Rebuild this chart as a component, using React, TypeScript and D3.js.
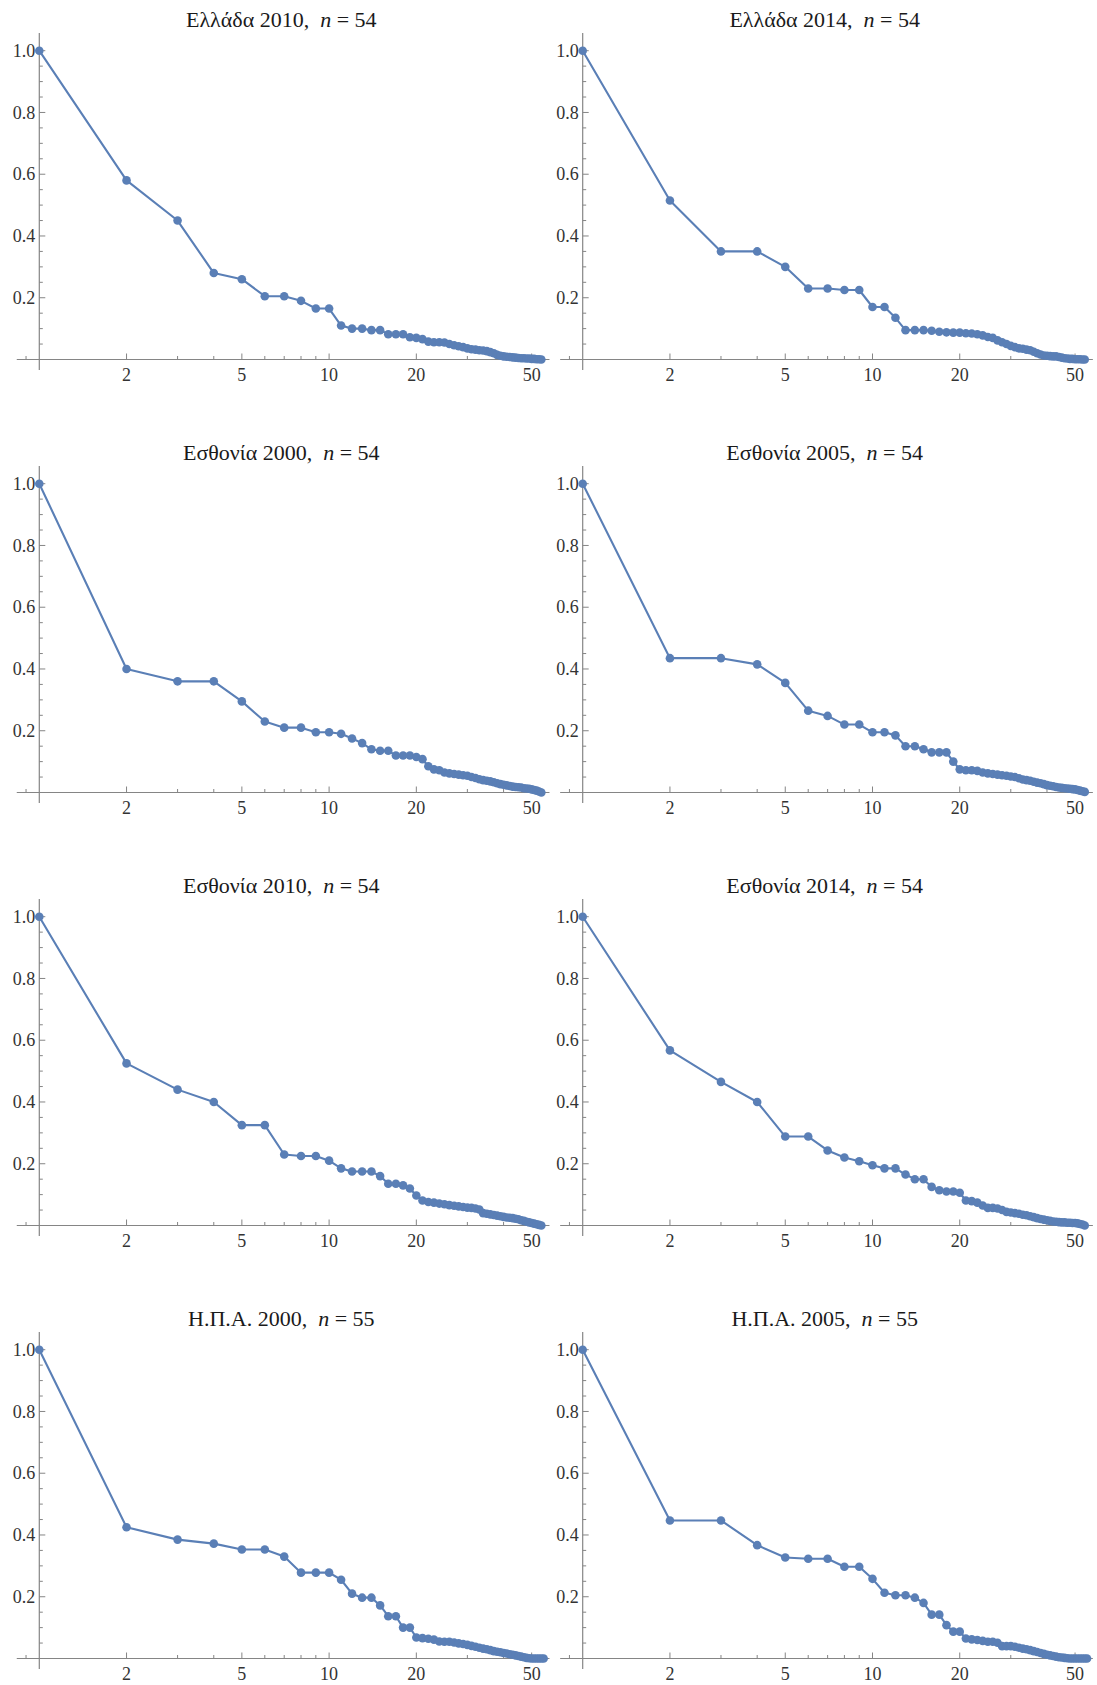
import React from "react";
import * as d3 from "d3";

// ---------- data ----------
const titles = ["Ελλάδα 2010", "Ελλάδα 2014", "Εσθονία 2000", "Εσθονία 2005", "Εσθονία 2010", "Εσθονία 2014", "Η.Π.Α. 2000", "Η.Π.Α. 2005"];

const greece2010 = [
  1.0, 0.58, 0.45, 0.28, 0.26, 0.205, 0.205, 0.19, 0.165, 0.165,
  0.11, 0.10, 0.10, 0.095, 0.095, 0.082, 0.082, 0.082, 0.072, 0.07,
  0.066, 0.058, 0.056, 0.056, 0.055, 0.05, 0.046, 0.043, 0.04, 0.036,
  0.033, 0.032, 0.03, 0.029, 0.027, 0.024, 0.02, 0.015, 0.012, 0.01,
  0.009, 0.008, 0.007, 0.006, 0.005, 0.004, 0.004, 0.003, 0.003, 0.002,
  0.002, 0.001, 0.001, 0.0,
];
const greece2014 = [
  1.0, 0.515, 0.35, 0.35, 0.30, 0.23, 0.23, 0.225, 0.225, 0.17,
  0.17, 0.135, 0.095, 0.095, 0.095, 0.093, 0.09, 0.088, 0.087, 0.087,
  0.085, 0.084, 0.082, 0.078, 0.073, 0.07, 0.062, 0.056, 0.05, 0.044,
  0.04, 0.036, 0.035, 0.032, 0.03, 0.025, 0.02, 0.016, 0.013, 0.012,
  0.011, 0.01, 0.01, 0.008, 0.006, 0.004, 0.003, 0.002, 0.002, 0.001,
  0.001, 0.001, 0.0, 0.0,
];
const estonia2000 = [
  1.0, 0.40, 0.36, 0.36, 0.295, 0.23, 0.21, 0.21, 0.195, 0.195,
  0.19, 0.175, 0.16, 0.14, 0.135, 0.135, 0.12, 0.12, 0.12, 0.115,
  0.108, 0.085, 0.075, 0.072, 0.065, 0.062, 0.06, 0.058, 0.056, 0.054,
  0.05, 0.047, 0.043, 0.04, 0.038, 0.036, 0.033, 0.03, 0.027, 0.025,
  0.023, 0.021, 0.019, 0.018, 0.017, 0.016, 0.014, 0.013, 0.012, 0.01,
  0.008, 0.006, 0.003, 0.0,
];
const estonia2005 = [
  1.0, 0.435, 0.435, 0.415, 0.355, 0.265, 0.248, 0.22, 0.22, 0.195,
  0.195, 0.185, 0.15, 0.15, 0.14, 0.13, 0.13, 0.13, 0.1, 0.075,
  0.072, 0.072, 0.07, 0.065, 0.062, 0.06, 0.058, 0.056, 0.054, 0.052,
  0.05, 0.046, 0.042, 0.04, 0.038, 0.035, 0.032, 0.03, 0.027, 0.024,
  0.022, 0.02, 0.018, 0.016, 0.015, 0.014, 0.013, 0.012, 0.011, 0.01,
  0.008, 0.006, 0.004, 0.002,
];
const estonia2010 = [
  1.0, 0.525, 0.44, 0.40, 0.325, 0.325, 0.23, 0.225, 0.225, 0.21,
  0.185, 0.175, 0.175, 0.175, 0.16, 0.135, 0.135, 0.13, 0.12, 0.097,
  0.081, 0.076, 0.074, 0.071, 0.069, 0.066, 0.064, 0.062, 0.06, 0.058,
  0.057, 0.055, 0.052, 0.04, 0.038, 0.036, 0.034, 0.032, 0.03, 0.028,
  0.026, 0.025, 0.024, 0.022, 0.02, 0.017, 0.015, 0.012, 0.01, 0.008,
  0.006, 0.004, 0.002, 0.0,
];
const estonia2014 = [
  1.0, 0.567, 0.465, 0.40, 0.288, 0.288, 0.243, 0.22, 0.208, 0.195,
  0.185, 0.185, 0.165, 0.15, 0.15, 0.125, 0.114, 0.11, 0.11, 0.106,
  0.081, 0.079, 0.074, 0.065, 0.057, 0.057, 0.055, 0.05, 0.044, 0.042,
  0.04, 0.038, 0.035, 0.033, 0.03, 0.027, 0.024, 0.021, 0.019, 0.017,
  0.015, 0.013, 0.012, 0.011, 0.01, 0.01, 0.009, 0.009, 0.008, 0.008,
  0.007, 0.005, 0.003, 0.0,
];
const usa2000 = [
  1.0, 0.425, 0.385, 0.372, 0.353, 0.353, 0.33, 0.278, 0.278, 0.278,
  0.255, 0.21, 0.197, 0.197, 0.172, 0.137, 0.137, 0.1, 0.1, 0.068,
  0.066, 0.064, 0.061, 0.055, 0.054, 0.054, 0.052, 0.049, 0.047, 0.044,
  0.041, 0.038, 0.035, 0.032, 0.03, 0.027, 0.024, 0.022, 0.02, 0.018,
  0.016, 0.014, 0.012, 0.01, 0.008, 0.006, 0.004, 0.002, 0.001, 0.0,
  0.0, 0.0, 0.0, 0.0, 0.0,
];
const usa2005 = [
  1.0, 0.447, 0.447, 0.367, 0.327, 0.323, 0.323, 0.297, 0.297, 0.258,
  0.213, 0.205, 0.205, 0.197, 0.18, 0.142, 0.142, 0.108, 0.087, 0.087,
  0.065, 0.062, 0.06, 0.057, 0.054, 0.054, 0.051, 0.04, 0.04, 0.04,
  0.038, 0.035, 0.032, 0.03, 0.027, 0.024, 0.021, 0.018, 0.015, 0.012,
  0.01, 0.008, 0.006, 0.004, 0.003, 0.002, 0.001, 0.0, 0.0, 0.0,
  0.0, 0.0, 0.0, 0.0, 0.0,
];

const seriesList = [greece2010, greece2014, estonia2000, estonia2005, estonia2010, estonia2014, usa2000, usa2005];

const yMajorTicks = [0.2, 0.4, 0.6, 0.8, 1.0];
const yMinorTicks = [0.05, 0.1, 0.15, 0.25, 0.3, 0.35, 0.45, 0.5, 0.55, 0.65, 0.7, 0.75, 0.85, 0.9, 0.95];
const xMajorTicks = [2, 5, 10, 20, 50];
const xMinorTicks = [0.9, 3, 4, 6, 7, 8, 9, 30, 40];

// ---------- layout ----------
const W = 1097;
const H = 1685;
const COL_X = [39.3, 582.7];
const ROW_Y0 = 359.5;
const ROW_STEP = 433;
const DECADE = 289.8;
const YSPAN = 308.8;
const BLUE = "#5A7FB6";
const AXIS = "#858585";
const FONT = "'Liberation Serif', 'Times New Roman', Times, serif";

function Panel({ title, values, ox, oy }: { title: string; values: number[]; ox: number; oy: number }) {
  const x = d3.scaleLog().domain([1, 10]).range([ox, ox + DECADE]);
  const y = d3.scaleLinear().domain([0, 1]).range([oy, oy - YSPAN]);
  const line = d3
    .line<number>()
    .x((_, i) => x(i + 1))
    .y((d) => y(d));
  const fmt = d3.format(".1f");
  return (
    <g>
      <text
        x={ox + 242}
        y={oy - 332.5}
        textAnchor="middle"
        fontFamily={FONT}
        fontSize={22}
        fill="#1a1a1a"
        style={{ whiteSpace: "pre" }}
      >
        {title + ",  "}
        <tspan fontStyle="italic">n</tspan>
        {" = " + values.length}
      </text>
      {/* axes */}
      <line x1={x(0.836)} x2={x(57.6)} y1={y(0)} y2={y(0)} stroke={AXIS} strokeWidth={1.2} />
      <line x1={x(1)} x2={x(1)} y1={y(-0.034)} y2={y(1.057)} stroke={AXIS} strokeWidth={1.2} />
      {yMinorTicks.map((t) => (
        <line key={"ym" + t} x1={x(1)} x2={x(1) + 3.5} y1={y(t)} y2={y(t)} stroke={AXIS} strokeWidth={1} />
      ))}
      {yMajorTicks.map((t) => (
        <g key={"yM" + t}>
          <line x1={x(1)} x2={x(1) + 6} y1={y(t)} y2={y(t)} stroke={AXIS} strokeWidth={1} />
          <text x={x(1) - 4} y={y(t)} dy="0.34em" textAnchor="end" fontFamily={FONT} fontSize={18} fill="#333">
            {fmt(t)}
          </text>
        </g>
      ))}
      {xMinorTicks.map((t) => (
        <line key={"xm" + t} x1={x(t)} x2={x(t)} y1={y(0)} y2={y(0) - 3.5} stroke={AXIS} strokeWidth={1} />
      ))}
      {xMajorTicks.map((t) => (
        <g key={"xM" + t}>
          <line x1={x(t)} x2={x(t)} y1={y(0)} y2={y(0) - 6} stroke={AXIS} strokeWidth={1} />
          <text x={x(t)} y={y(0) + 21.5} textAnchor="middle" fontFamily={FONT} fontSize={18} fill="#333">
            {String(t)}
          </text>
        </g>
      ))}
      <path d={line(values) || ""} fill="none" stroke={BLUE} strokeWidth={2.1} strokeLinejoin="round" />
      {values.map((v, i) => (
        <circle key={i} cx={x(i + 1)} cy={y(v)} r={4.3} fill={BLUE} />
      ))}
    </g>
  );
}

export default function App() {
  return (
    <svg
      width={W}
      height={H}
      viewBox={`0 0 ${W} ${H}`}
      style={{ position: "absolute", left: 0, top: 0, background: "#fff" }}
    >
      <rect x={0} y={0} width={W} height={H} fill="#fff" />
      {seriesList.map((vals, k) => (
        <Panel
          key={k}
          title={titles[k]}
          values={vals}
          ox={COL_X[k % 2]}
          oy={ROW_Y0 + ROW_STEP * Math.floor(k / 2)}
        />
      ))}
    </svg>
  );
}
